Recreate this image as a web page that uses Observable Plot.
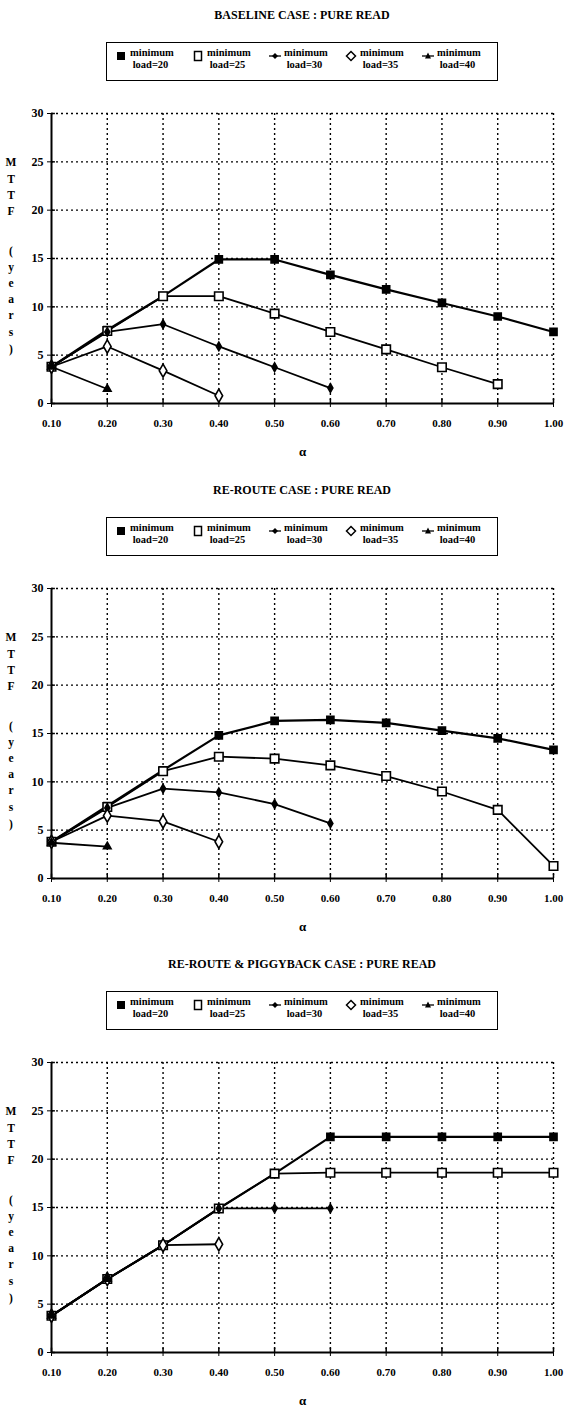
<!DOCTYPE html>
<html><head><meta charset="utf-8">
<script src="https://cdn.jsdelivr.net/npm/d3@7"></script>
<script src="https://cdn.jsdelivr.net/npm/@observablehq/plot@0.6"></script>
<style>
body{margin:0;background:#fff;font-family:"Liberation Serif","Times New Roman",serif;font-weight:bold;color:#000}
#root{position:relative;width:565px;height:1408px;overflow:hidden}
.block{position:absolute;left:0;width:565px;height:475px}
.title{position:absolute;left:0;width:604px;top:8px;text-align:center;font-size:12px}
.legend{position:absolute;left:106px;top:42px;width:390px;height:37px;border:1.4px solid #000}
.item{position:absolute;top:4px}
.item svg{position:absolute;left:-6px;top:3px}
.item .t{position:absolute;left:9px;top:0;font-size:10.5px;line-height:12px;white-space:nowrap}
.ylab{position:absolute;left:5px;width:12px;text-align:center;font-size:11.5px}
.chart{position:absolute;left:0;top:100px}
</style></head>
<body><div id="root"></div>
<script>
const alphas = [0.1,0.2,0.3,0.4,0.5,0.6,0.7,0.8,0.9,1.0];
const yTicks = [0,5,10,15,20,25,30];
const loads = ["20","25","30","35","40"];
const titles = ["BASELINE CASE : PURE READ","RE-ROUTE CASE : PURE READ","RE-ROUTE & PIGGYBACK CASE : PURE READ"];

const baseline20 = [3.8,7.6,11.1,14.9,14.9,13.3,11.8,10.4,9.0,7.4];
const baseline25 = [3.8,7.5,11.1,11.1,9.3,7.4,5.6,3.75,2.0];
const baseline30 = [3.8,7.4,8.2,5.9,3.75,1.6];
const baseline35 = [3.8,5.9,3.4,0.8];
const baseline40 = [3.8,1.5];

const reroute20 = [3.8,7.5,11.2,14.8,16.3,16.4,16.1,15.3,14.5,13.3];
const reroute25 = [3.8,7.4,11.1,12.6,12.4,11.7,10.6,9.0,7.1,1.3];
const reroute30 = [3.8,7.3,9.3,8.9,7.7,5.7];
const reroute35 = [3.8,6.5,5.9,3.8];
const reroute40 = [3.7,3.3];

const piggy20 = [3.8,7.6,11.1,14.9,18.5,22.3,22.3,22.3,22.3,22.3];
const piggy25 = [3.8,7.6,11.1,14.9,18.5,18.6,18.6,18.6,18.6,18.6];
const piggy30 = [3.8,7.6,11.1,14.9,14.9,14.9];
const piggy35 = [3.8,7.6,11.1,11.2];
const piggy40 = [3.8,7.6];

const charts = [
  [baseline20,baseline25,baseline30,baseline35,baseline40],
  [reroute20,reroute25,reroute30,reroute35,reroute40],
  [piggy20,piggy25,piggy30,piggy35,piggy40]
];

const sym = {
  "20": {symbol:"square", fill:"#000", stroke:"#000", r:4},
  "25": {symbol:"square", fill:"#fff", stroke:"#000", r:4.8},
  "30": {symbol:"diamond", fill:"#000", stroke:"#000", r:2.6},
  "35": {symbol:"diamond", fill:"#fff", stroke:"#000", r:4},
  "40": {symbol:"triangle", fill:"#000", stroke:"#000", r:2.8}
};
const legendSvg = {
  "20": '<svg width="12" height="12"><rect x="2" y="2" width="8" height="8" fill="#000"/></svg>',
  "25": '<svg width="12" height="12"><rect x="2.5" y="1.5" width="7" height="9" fill="#fff" stroke="#000" stroke-width="1.5"/></svg>',
  "30": '<svg width="12" height="12"><line x1="0" y1="6" x2="12" y2="6" stroke="#000" stroke-width="1.3"/><path d="M6 3 L9 6 L6 9 L3 6Z" fill="#000"/></svg>',
  "35": '<svg width="12" height="12"><path d="M6 1.5 L10.5 6 L6 10.5 L1.5 6Z" fill="#fff" stroke="#000" stroke-width="1.5"/></svg>',
  "40": '<svg width="12" height="12"><line x1="0" y1="6" x2="12" y2="6" stroke="#000" stroke-width="1.3"/><path d="M6 2.5 L9 8.5 L3 8.5Z" fill="#000"/></svg>'
};
const legendX = [14,91,168,244,321];
const ylabLetters = [["M",163],["T",180],["T",196],["F",212],["(",252],["y",268],["e",284],["a",300],["r",316],["s",333],[")",350]];

const root = document.getElementById("root");
const fmt = d3.format(".2f");

charts.forEach((series, ci) => {
  const block = document.createElement("div");
  block.className = "block";
  block.style.top = (ci * 474.5) + "px";
  root.appendChild(block);

  const title = document.createElement("div");
  title.className = "title";
  title.textContent = titles[ci];
  block.appendChild(title);

  const leg = document.createElement("div");
  leg.className = "legend";
  loads.forEach((l, i) => {
    const it = document.createElement("div");
    it.className = "item";
    it.style.left = legendX[i] + "px";
    it.innerHTML = legendSvg[l] + '<div class="t">minimum<br>&nbsp;load=' + l + '</div>';
    leg.appendChild(it);
  });
  block.appendChild(leg);

  ylabLetters.forEach(([c, y]) => {
    const s = document.createElement("div");
    s.className = "ylab";
    s.style.top = (y - 7) + "px";
    s.textContent = c;
    block.appendChild(s);
  });

  const data = [];
  series.forEach((vals, si) => {
    vals.forEach((v, i) => { if (v != null) data.push({alpha: alphas[i], mttf: v, load: loads[si]}); });
  });

  const grid = {stroke:"#000", strokeWidth:1.4, strokeDasharray:"2,3"};
  const marks = [
    Plot.ruleX(alphas.slice(1), {...grid}),
    Plot.ruleY(yTicks.slice(1), {...grid}),
    Plot.axisX({ticks: alphas, tickFormat: fmt, tickSize: 4, tickPadding: 12, fontSize: 11, label: null}),
    Plot.axisY({ticks: yTicks, tickSize: 4, tickPadding: 4, fontSize: 12, label: null}),
    Plot.ruleX(alphas, {y1: 0, y2: 0.45, stroke:"#000", strokeWidth: 1.5}),
    Plot.ruleY(yTicks, {x1: 0.1, x2: 0.107, stroke:"#000", strokeWidth: 1.5}),
    Plot.ruleY([0], {stroke:"#000", strokeWidth:2}),
    Plot.ruleX([0.1], {stroke:"#000", strokeWidth:2}),
    Plot.text(["α"], {frameAnchor:"bottom", dy: 52, fontSize: 13, fontWeight:"bold"})
  ];
  loads.forEach((l) => {
    const d = data.filter(r => r.load === l);
    marks.push(Plot.line(d, {x:"alpha", y:"mttf", stroke:"#000", strokeWidth: l === "20" ? 2.2 : 1.8}));
  });
  loads.forEach((l) => {
    const d = data.filter(r => r.load === l);
    const s = sym[l];
    marks.push(Plot.dot(d, {x:"alpha", y:"mttf", symbol: () => s.symbol, fill: s.fill, stroke: s.stroke, strokeWidth: 1.6, r: s.r}));
  });

  const svg = Plot.plot({
    width: 565, height: 363,
    marginLeft: 51, marginRight: 12, marginTop: 13, marginBottom: 60,
    style: {fontFamily: '"Liberation Serif", serif', fontWeight: "bold", background: "transparent", color: "#000"},
    x: {domain: [0.1, 1.0]},
    y: {domain: [0, 30]},
    symbol: {type: "identity"},
    marks
  });
  svg.classList.add("chart");
  block.appendChild(svg);
});
</script>
</body></html>
